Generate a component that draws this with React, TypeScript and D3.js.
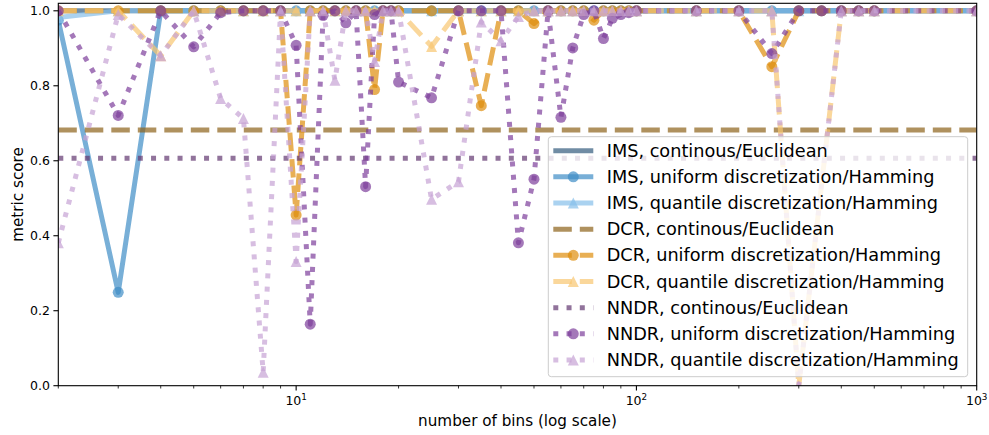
import * as d3 from 'd3';

// ── Layout ────────────────────────────────────────────────────────────────────
const W = 989;
const H = 435;
const P = { left: 58.3, right: 976.7, top: 3.3, bottom: 385.7 };

const LW = 5;
const ALPHA = 0.7;
const MS = 11;
const FONT = 'DejaVu Sans, sans-serif';
const DASHES: Record<string, string | undefined> = {
  solid: undefined,
  dashed: '18.5 8',
  dotted: '5 8.25',
};

// ── Data ──────────────────────────────────────────────────────────────────────
const BINS = [2, 3, 4, 5, 6, 7, 8, 9, 10, 11, 12, 13, 14, 15, 16, 17, 18, 19, 20,
  25, 30, 35, 40, 45, 50, 55, 60, 65, 70, 75, 80, 85, 90, 95, 100,
  150, 200, 250, 300, 350, 400, 450, 500, 1000];
// quantile runs have no 350-bin point
const QBINS = [2, 3, 4, 5, 6, 7, 8, 9, 10, 11, 12, 13, 14, 15, 16, 17, 18, 19, 20,
  25, 30, 35, 40, 45, 50, 55, 60, 65, 70, 75, 80, 85, 90, 95, 100,
  150, 200, 250, 300, 400, 450, 500, 1000];

const IMS_CONTINUOUS = 1.0;
const DCR_CONTINUOUS = 0.682;
const NNDR_CONTINUOUS = 0.607;

const IMS_UNIFORM = [0.975, 0.249, 1, 1, 1, 1, 1, 1, 1, 1, 1, 1, 1, 1, 1, 1, 1, 1, 1,
  1, 1, 1, 1, 1, 1, 1, 1, 1, 1, 1, 1, 1, 1, 1, 1,
  1, 1, 1, 1, 1, 1, 1, 1, 1];
const IMS_QUANTILE = [0.982, 1, 1, 1, 1, 1, 1, 1, 1, 1, 1, 1, 1, 1, 1, 1, 1, 1, 1,
  1, 1, 1, 1, 1, 1, 1, 1, 1, 1, 1, 1, 1, 1, 1, 1,
  1, 1, 1, 1, 1, 1, 1, 1];

const DCR_UNIFORM = [1, 1, 1, 1, 1, 1, 1, 1, 0.455, 1, 1, 1, 1, 1, 1, 0.79, 1, 1, 1,
  1, 1, 0.747, 1, 1, 0.966, 1, 1, 1, 1, 0.975, 1, 1, 1, 1, 1,
  1, 1, 0.851, 1, 1, 1, 1, 1, 1];
const DCR_QUANTILE = [1, 1, 0.88, 1, 1, 1, 1, 1, 1, 1, 1, 1, 1, 1, 1, 1, 1, 1, 1,
  0.905, 1, 1, 1, 1, 1, 1, 1, 1, 1, 1, 1, 1, 1, 1, 1,
  1, 1, 1, 0, 1, 1, 1, 1];

const NNDR_UNIFORM = [1, 0.721, 1, 0.904, 0.995, 1, 1, 1, 0.908, 0.164, 0.988, 1, 0.968, 1, 0.531, 0.99, 1, 1, 0.81,
  0.768, 1, 1, 1, 0.381, 0.551, 1, 0.716, 0.901, 0.99, 1, 0.926, 0.98, 0.99, 0.995, 1,
  1, 1, 0.886, 1, 1, 1, 1, 1, 1];
const NNDR_QUANTILE = [0.381, 0.99, 0.88, 1, 0.766, 0.713, 0.036, 1, 0.331, 1, 1, 0.815, 1, 1, 1, 0.865, 1, 1, 1,
  0.497, 0.544, 0.97, 0.92, 0.985, 1, 1, 1, 1, 1, 1, 1, 1, 1, 1, 1,
  1, 1, 1, 0, 1, 1, 1, 1];

const Y_TICKS = [0, 0.2, 0.4, 0.6, 0.8, 1.0];
const X_MAJOR = [10, 100, 1000];
const X_MINOR = [2, 3, 4, 5, 6, 7, 8, 9, 20, 30, 40, 50, 60, 70, 80, 90, 200, 300, 400, 500, 600, 700, 800, 900];

type Marker = 'o' | '^' | null;
type Series = {
  label: string;
  color: string;
  dash: string;
  marker: Marker;
  xs: number[];
  ys: number[];
};

const flat = (v: number) => ({ xs: [2, 1000], ys: [v, v] });

const SERIES: Series[] = [
  { label: 'IMS, continous/Euclidean', color: '#335b7e', dash: 'solid', marker: null, ...flat(IMS_CONTINUOUS) },
  { label: 'IMS, uniform discretization/Hamming', color: '#3e8dc6', dash: 'solid', marker: 'o', xs: BINS, ys: IMS_UNIFORM },
  { label: 'IMS, quantile discretization/Hamming', color: '#86bfea', dash: 'solid', marker: '^', xs: QBINS, ys: IMS_QUANTILE },
  { label: 'DCR, continous/Euclidean', color: '#8d621a', dash: 'dashed', marker: null, ...flat(DCR_CONTINUOUS) },
  { label: 'DCR, uniform discretization/Hamming', color: '#de8d0c', dash: 'dashed', marker: 'o', xs: BINS, ys: DCR_UNIFORM },
  { label: 'DCR, quantile discretization/Hamming', color: '#f8c670', dash: 'dashed', marker: '^', xs: QBINS, ys: DCR_QUANTILE },
  { label: 'NNDR, continous/Euclidean', color: '#623770', dash: 'dotted', marker: null, ...flat(NNDR_CONTINUOUS) },
  { label: 'NNDR, uniform discretization/Hamming', color: '#7e3e9b', dash: 'dotted', marker: 'o', xs: BINS, ys: NNDR_UNIFORM },
  { label: 'NNDR, quantile discretization/Hamming', color: '#c6a2d4', dash: 'dotted', marker: '^', xs: QBINS, ys: NNDR_QUANTILE },
];

// ── Marker glyph ──────────────────────────────────────────────────────────────
function MarkerShape({ kind, cx, cy, color }: { kind: Marker; cx: number; cy: number; color: string }) {
  if (kind === 'o') {
    return <circle cx={cx} cy={cy} r={MS / 2} fill={color} fillOpacity={ALPHA} />;
  }
  if (kind === '^') {
    const h = MS / 2;
    return (
      <path
        d={`M${cx},${cy - h}L${cx - h},${cy + h}L${cx + h},${cy + h}Z`}
        fill={color}
        fillOpacity={ALPHA}
      />
    );
  }
  return null;
}

// ── Component ─────────────────────────────────────────────────────────────────
export default function App() {
  const x = d3.scaleLog().domain([2, 1000]).range([P.left, P.right]);
  const y = d3.scaleLinear().domain([0, 1.02]).range([P.bottom, P.top]);
  const line = d3.line<number>();

  const pathFor = (s: Series) =>
    line(s.xs.map((v, i) => [x(v), y(s.ys[i])]) as any) ?? '';

  const LEG = { x0: 548.3, y0: 136.7, x1: 967.7, y1: 376.7, row0: 150.7, step: 26.16 };
  const HX0 = 553.3;
  const HX1 = 593.3;

  return (
    <svg
      width={W}
      height={H}
      viewBox={`0 0 ${W} ${H}`}
      style={{ position: 'absolute', left: 0, top: 0, background: '#fff' }}
      fontFamily={FONT}
    >
      <defs>
        <clipPath id="plot">
          <rect x={P.left} y={P.top} width={P.right - P.left} height={P.bottom - P.top} />
        </clipPath>
      </defs>

      <rect x={0} y={0} width={W} height={H} fill="#fff" />

      {/* Series: line then markers, in plotting order */}
      <g clipPath="url(#plot)">
        {SERIES.map(s => (
          <g key={s.label}>
            <path
              d={pathFor(s)}
              fill="none"
              stroke={s.color}
              strokeOpacity={ALPHA}
              strokeWidth={LW}
              strokeDasharray={DASHES[s.dash]}
              strokeLinejoin="round"
              strokeLinecap={s.dash === 'solid' ? 'square' : 'butt'}
            />
            {s.marker && s.xs.map((v, i) => (
              <MarkerShape key={i} kind={s.marker} cx={x(v)} cy={y(s.ys[i])} color={s.color} />
            ))}
          </g>
        ))}
      </g>

      {/* Spines */}
      <rect
        x={P.left} y={P.top}
        width={P.right - P.left} height={P.bottom - P.top}
        fill="none" stroke="#000" strokeWidth={1.1}
      />

      {/* Y axis */}
      {Y_TICKS.map(t => (
        <g key={t}>
          <line x1={P.left - 4.9} x2={P.left} y1={y(t)} y2={y(t)} stroke="#000" strokeWidth={1.1} />
          <text
            x={50} y={y(t)}
            textAnchor="end" dominantBaseline="central"
            fontSize={12.5} fill="#000"
          >
            {t.toFixed(1)}
          </text>
        </g>
      ))}
      <text
        transform={`translate(22.5,${(P.top + P.bottom) / 2}) rotate(-90)`}
        textAnchor="middle" fontSize={15.2} fill="#000"
      >
        metric score
      </text>

      {/* X axis */}
      {X_MINOR.map(t => (
        <line key={t} x1={x(t)} x2={x(t)} y1={P.bottom} y2={P.bottom + 2.8} stroke="#000" strokeWidth={0.8} />
      ))}
      {X_MAJOR.map((t, i) => (
        <g key={t}>
          <line x1={x(t)} x2={x(t)} y1={P.bottom} y2={P.bottom + 4.9} stroke="#000" strokeWidth={1.1} />
          <text x={x(t)} y={405} textAnchor="middle" fontSize={12.5} fill="#000">
            <tspan>10</tspan>
            <tspan fontSize={8.8} dy={-5}>{i + 1}</tspan>
          </text>
        </g>
      ))}
      <text
        x={(P.left + P.right) / 2} y={426}
        textAnchor="middle" fontSize={15.2} fill="#000"
      >
        number of bins (log scale)
      </text>

      {/* Legend */}
      <rect
        x={LEG.x0} y={LEG.y0}
        width={LEG.x1 - LEG.x0} height={LEG.y1 - LEG.y0}
        rx={3} fill="#fff" fillOpacity={0.8}
        stroke="#ccc" strokeWidth={1}
      />
      {SERIES.map((s, i) => {
        const cy = LEG.row0 + i * LEG.step;
        return (
          <g key={s.label}>
            <line
              x1={HX0} x2={HX1} y1={cy} y2={cy}
              stroke={s.color} strokeOpacity={ALPHA}
              strokeWidth={LW}
              strokeDasharray={DASHES[s.dash]}
              strokeLinecap="butt"
            />
            {s.marker && (
              <MarkerShape kind={s.marker} cx={(HX0 + HX1) / 2} cy={cy} color={s.color} />
            )}
            <text x={606.7} y={cy} dominantBaseline="central" fontSize={17.7} fill="#000">
              {s.label}
            </text>
          </g>
        );
      })}
    </svg>
  );
}
